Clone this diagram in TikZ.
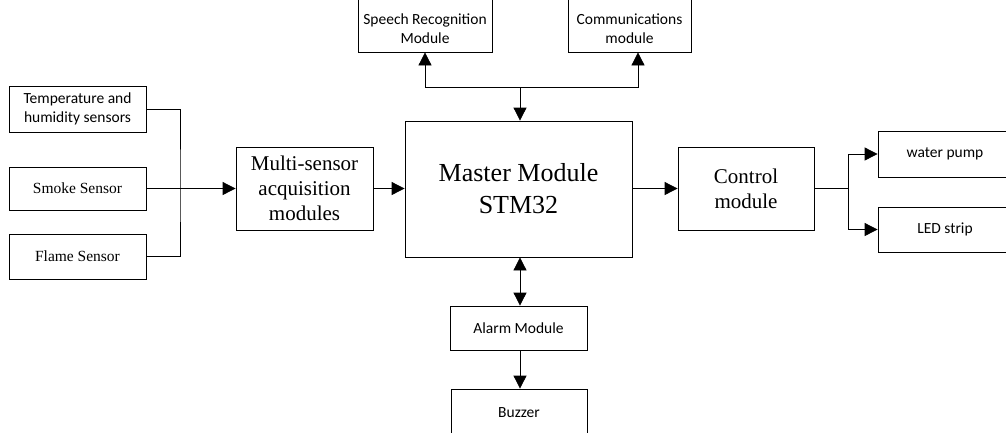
\documentclass[tikz,border=0pt]{standalone}
\usepackage{fontspec}
\setmainfont{Liberation Serif}
\newfontfamily\calfont{Carlito}
\usetikzlibrary{arrows.meta}
\begin{document}
\begin{tikzpicture}[x=1pt,y=-1pt,
  box/.style={draw,line width=0.8pt,inner sep=0pt,align=center},
  cal/.style={font=\calfont\fontsize{15.5}{19}\selectfont},
  tms/.style={font=\fontsize{15.5}{18}\selectfont},
  big/.style={font=\fontsize{21}{25}\selectfont},
  arr/.style={line width=0.8pt,-{Triangle[length=13pt,width=13pt]}},
  dbl/.style={line width=0.8pt,{Triangle[length=13pt,width=13pt]}-{Triangle[length=13pt,width=13pt]}},
  ln/.style={line width=0.8pt}]
\useasboundingbox (0,0) rectangle (1006,432);
% sensors
\node[box,cal,minimum width=137pt,minimum height=46pt] (temp) at (77.5,109) {Temperature and\\humidity sensors};
\node[box,tms,minimum width=137pt,minimum height=43pt] (smoke) at (77.5,188.5) {Smoke Sensor};
\node[box,tms,minimum width=137pt,minimum height=45pt] (flame) at (77.5,256.5) {Flame Sensor};
\node[box,big,minimum width=137pt,minimum height=83pt] (multi) at (304.5,188.5) {Multi-sensor\\acquisition\\modules};
\node[box,font=\fontsize{26}{32}\selectfont,minimum width=227pt,minimum height=136pt] (master) at (518.5,189) {Master Module\\STM32};
\node[box,big,minimum width=136pt,minimum height=83pt] (control) at (746,188.5) {Control\\module};
\node[box,cal,minimum width=134pt,minimum height=46pt] (pump) at (945,154) {water pump};
\node[box,cal,minimum width=134pt,minimum height=45pt] (led) at (945,229.5) {LED strip};
% top
\node[box,minimum width=134pt,minimum height=56pt,
  label={[cal,align=center,yshift=-5pt]center:Speech Recognition\\Module}] (speech) at (425,24) {};
\node[box,minimum width=123pt,minimum height=56pt,
  label={[cal,align=center,yshift=-5pt]center:Communications\\module}] (comm) at (629.5,24) {};
% bottom
\node[box,cal,minimum width=137pt,minimum height=44pt] (alarm) at (518.5,328) {Alarm Module};
\node[box,cal,minimum width=136pt,minimum height=47pt] (buzzer) at (519,412.5) {Buzzer};
% connectors
\coordinate (bus) at (180,188.5);
\coordinate (tj) at (520,87);
\coordinate (cj) at (848,188.5);
\draw[ln] (temp.east) -| (bus) |- (flame.east);
\draw[arr] (smoke.east) -- (multi.west);
\draw[arr] (multi.east) -- (master.west |- multi.east);
\draw[arr] (master.east |- control.west) -- (control.west);
\draw[ln] (control.east) -- (cj);
\draw[arr] (cj) |- (pump.west);
\draw[arr] (cj) |- (led.west);
\draw[arr] (tj) -- (tj |- master.north);
\draw[arr] (tj) -| (speech.south);
\draw[arr] (tj) -| ([xshift=8.5pt]comm.south);
\draw[dbl] (master.south -| tj) -- (alarm.north -| tj);
\draw[arr] (alarm.south -| tj) -- (buzzer.north -| tj);
\end{tikzpicture}
\end{document}
